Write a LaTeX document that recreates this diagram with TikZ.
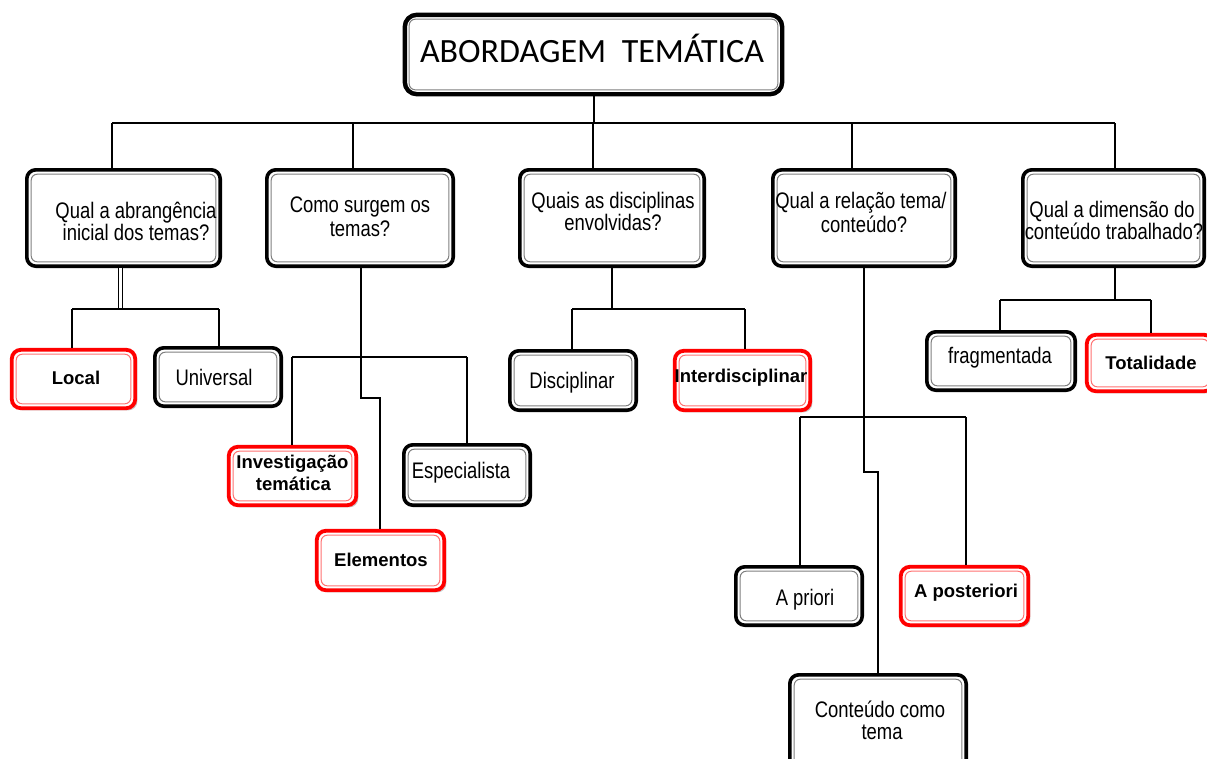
\documentclass[tikz,border=0pt]{standalone}
\usepackage{fontspec}
\setmainfont{Liberation Sans}
\newfontfamily\condfont[FakeStretch=0.82]{Liberation Sans}
\newfontfamily\titlefont{Carlito}
\usetikzlibrary{shadows,calc}
\tikzset{
  box/.style={draw=black, line width=3.6pt, rounded corners=9pt, fill=white, inner sep=0pt,
    path picture={\draw[black!50, line width=1pt, rounded corners=6pt]
      ([shift={(4.4pt,4.4pt)}]path picture bounding box.south west) rectangle
      ([shift={(-4.4pt,-4.4pt)}]path picture bounding box.north east);}},
  redbox/.style={draw=red, line width=3.8pt, rounded corners=9pt, fill=white, inner sep=0pt,
    drop shadow={shadow xshift=2.2pt, shadow yshift=-2.2pt, opacity=0.35, fill=black!60},
    path picture={\draw[red!55, line width=1pt, rounded corners=6pt]
      ([shift={(4.4pt,4.4pt)}]path picture bounding box.south west) rectangle
      ([shift={(-4.4pt,-4.4pt)}]path picture bounding box.north east);}},
  titlebox/.style={box, line width=4.4pt, rounded corners=12pt},
  conn/.style={draw=black, line width=2pt},
  dbl/.style={draw=black, line width=1.5pt, double=white, double distance=2.4pt},
  txt/.style={anchor=base, inner sep=0pt, font=\condfont\fontsize{22.5}{22}\selectfont},
  btxt/.style={anchor=base, inner sep=0pt, font=\fontsize{18.5}{20}\selectfont\bfseries},
}
\newcommand{\bx}[6]{\node[#6, minimum width={#4-#2-3.6}, minimum height={#5-#3-3.6}] (#1) at ({(#2+#4)/2},{(#3+#5)/2}) {};}
\begin{document}
\begin{tikzpicture}[x=1pt,y=-1pt]
\useasboundingbox (0,0) rectangle (1207,758);
\clip (0,0) rectangle (1207,758);
% boxes
\bx{T}{403}{13}{784}{96}{titlebox}
\bx{B1}{25}{168}{222}{268}{box}
\bx{B2}{265}{168}{455}{268}{box}
\bx{B3}{518}{168}{706}{268}{box}
\bx{B4}{771}{168}{957}{268}{box}
\bx{B5}{1021}{168}{1206}{268}{box}
\bx{L}{10}{348}{137}{410}{redbox}
\bx{U}{153}{346}{283}{408}{box}
\bx{I}{227}{445}{358}{507}{redbox}
\bx{S}{402}{443}{532}{507}{box}
\bx{E}{315}{529}{446}{592}{redbox}
\bx{D}{508}{349}{638}{412}{box}
\bx{ID}{673}{349}{812}{412}{redbox}
\bx{F}{925}{330}{1077}{392}{box}
\bx{TO}{1085}{333}{1215}{393}{redbox}
\bx{AP}{734}{565}{864}{627}{box}
\bx{APO}{899}{565}{1030}{627}{redbox}
\bx{C}{788}{673}{968}{775}{box}
% top connectors
\coordinate (b1) at (112,123);
\coordinate (b2) at (353,123);
\coordinate (b3) at (593,123);
\coordinate (b4) at (852,123);
\coordinate (b5) at (1115,123);
\draw[conn] (T.south) -- (T.south |- b1);
\draw[conn] (b1) -- (b5);
\foreach \i in {1,...,5} {\draw[conn] (b\i) -- (b\i |- B\i.north);}
% B1 children
\coordinate (d1) at (120.5,309);
\coordinate (h1l) at (72,309);
\coordinate (h1r) at (219,309);
\draw[dbl] (d1 |- B1.south) -- (d1);
\draw[conn] (h1l) -- (h1r);
\draw[conn] (h1l) -- (h1l |- L.north);
\draw[conn] (h1r) -- (h1r |- U.north);
% B2 children
\coordinate (k2) at (361,398);
\coordinate (k2b) at (380,398);
\coordinate (h2l) at (292,357);
\coordinate (h2r) at (467,357);
\draw[conn] (k2 |- B2.south) -- (k2) -- (k2b) -- (k2b |- E.north);
\draw[conn] (h2l) -- (h2r);
\draw[conn] (h2l) -- (h2l |- I.north);
\draw[conn] (h2r) -- (h2r |- S.north);
% B3 children
\coordinate (d3) at (612,309);
\coordinate (h3l) at (572,309);
\coordinate (h3r) at (745,309);
\draw[conn] (d3 |- B3.south) -- (d3);
\draw[conn] (h3l) -- (h3r);
\draw[conn] (h3l) -- (h3l |- D.north);
\draw[conn] (h3r) -- (h3r |- ID.north);
% B4 children
\coordinate (k4) at (864,472);
\coordinate (k4b) at (878,472);
\coordinate (h4l) at (800,417);
\coordinate (h4r) at (966,417);
\draw[conn] (k4 |- B4.south) -- (k4) -- (k4b) -- (k4b |- C.north);
\draw[conn] (h4l) -- (h4r);
\draw[conn] (h4l) -- (h4l |- AP.north);
\draw[conn] (h4r) -- (h4r |- APO.north);
% B5 children
\coordinate (d5) at (1115,300);
\coordinate (h5l) at (1000,300);
\coordinate (h5r) at (1151,300);
\draw[conn] (d5 |- B5.south) -- (d5);
\draw[conn] (h5l) -- (h5r);
\draw[conn] (h5l) -- (h5l |- F.north);
\draw[conn] (h5r) -- (h5r |- TO.north);
% texts
\node[anchor=base, inner sep=0pt, font=\titlefont\fontsize{34}{36}\selectfont] (tT) at (592,62) {ABORDAGEM\hspace{8pt} TEMÁTICA};
\node[txt] (t1a) at (136,218) {Qual a abrangência};
\node[txt] (t1b) at (136,240) {inicial dos temas?};
\node[txt] (t2a) at (360,212) {Como surgem os};
\node[txt] (t2b) at (360,236) {temas?};
\node[txt] (t3a) at (613,208) {Quais as disciplinas};
\node[txt] (t3b) at (613,230) {envolvidas?};
\node[txt] (t4a) at (861,208) {Qual a relação tema/};
\node[txt] (t4b) at (864,232) {conteúdo?};
\node[txt] (t5a) at (1112,217) {Qual a dimensão do};
\node[txt] (t5b) at (1114,239) {conteúdo trabalhado?};
\node[btxt] (tL) at (76,384) {Local};
\node[txt] (tU) at (214,385) {Universal};
\node[btxt] (tIa) at (292.5,468) {Investigação};
\node[btxt] (tIb) at (293.5,490) {temática};
\node[txt] (tS) at (461,478) {Especialista};
\node[btxt] (tE) at (381,566) {Elementos};
\node[txt] (tD) at (572,388) {Disciplinar};
\node[btxt] (tID) at (741,382) {Interdisciplinar};
\node[txt] (tF) at (1000,363) {fragmentada};
\node[btxt] (tTO) at (1151,369) {Totalidade};
\node[txt] (tAP) at (805,605) {A priori};
\node[btxt] (tAPO) at (966,597) {A posteriori};
\node[txt] (tCa) at (880,717) {Conteúdo como};
\node[txt] (tCb) at (882,739) {tema};
\end{tikzpicture}
\end{document}
